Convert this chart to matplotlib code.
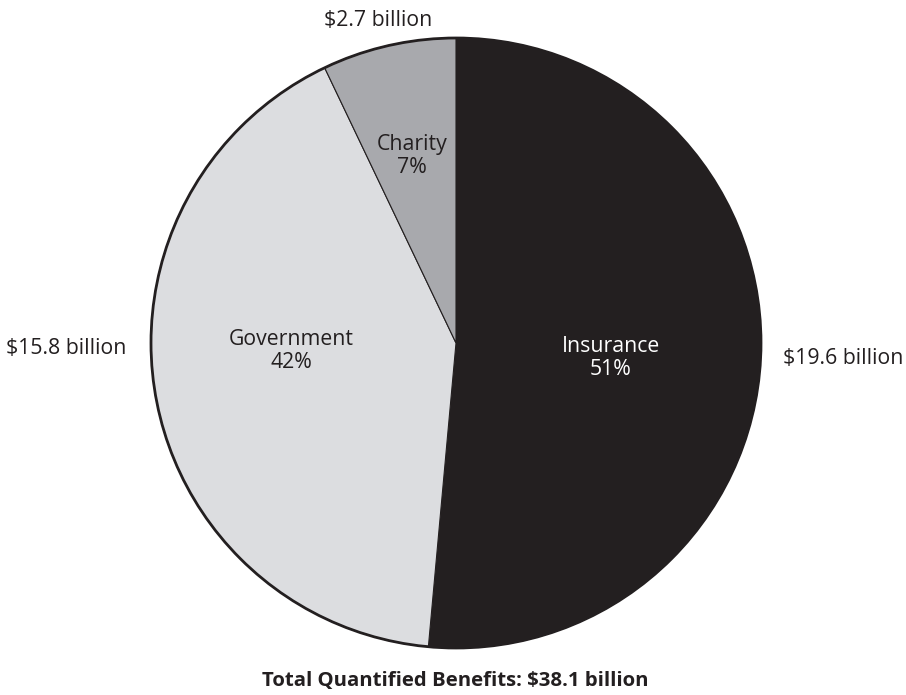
import matplotlib.pyplot as plt

plt.rcParams['font.family'] = ['Open Sans', 'DejaVu Sans']

categories = ["Insurance", "Government", "Charity"]
values = [19.6, 15.8, 2.7]
percents = ["51%", "42%", "7%"]
amounts = ["$19.6 billion", "$15.8 billion", "$2.7 billion"]
colors = ["#231f20", "#dcdde0", "#a8a9ad"]
total = 38.1

W, H = 906, 695
fig = plt.figure(figsize=(W / 100, H / 100), dpi=100)
ax = fig.add_axes([0, 0, 1, 1])

cx, cy, r = 456, H - 343, 305

wedges, _ = ax.pie(values, colors=colors, startangle=90, counterclock=False,
                   center=(cx, cy), radius=r, frame=True,
                   wedgeprops=dict(edgecolor="#231f20", linewidth=0.8))
ax.set_xlim(0, W)
ax.set_ylim(0, H)
ax.set_aspect("equal")
ax.axis("off")

# thicker outer rim
circle = plt.Circle((cx, cy), r, fill=False, edgecolor="#231f20", linewidth=2)
ax.add_patch(circle)

fs = 15.3

# inside labels
inner_pos = [(611, 358), (291, 351), (412, 156)]
inner_col = ["white", "#231f20", "#231f20"]
for cat, pct, (x, y), c in zip(categories, percents, inner_pos, inner_col):
    ax.text(x, H - y, f"{cat}\n{pct}", ha="center", va="center", fontsize=fs,
            color=c, linespacing=1.15)

# outside amounts
ax.text(843, H - 359, amounts[0], ha="center", va="center", fontsize=fs, color="#231f20")
ax.text(66.5, H - 349, amounts[1], ha="center", va="center", fontsize=fs, color="#231f20")
ax.text(378, H - 20, amounts[2], ha="center", va="center", fontsize=fs, color="#231f20")

ax.text(455, H - 681, f"Total Quantified Benefits: ${total} billion", ha="center",
        va="center", fontsize=14.7, fontweight="bold", fontstretch="normal",
        color="#231f20", family=["Open Sans", "DejaVu Sans"])

fig.savefig("out.png", dpi=100)
